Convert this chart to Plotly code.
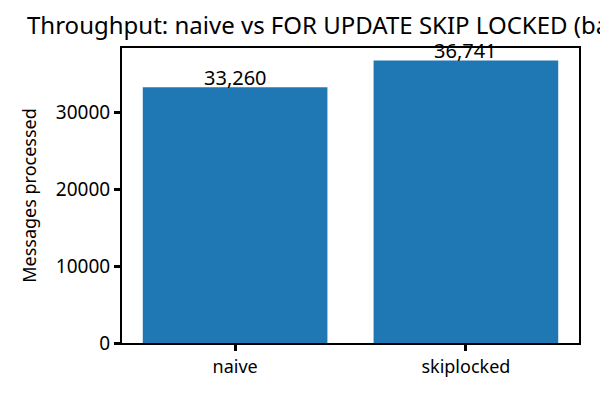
import plotly.graph_objects as go

categories = ["naive", "skiplocked"]
messages = [33260, 36741]
y_ticks = [0, 10000, 20000, 30000]
title_text = "Throughput: naive vs FOR UPDATE SKIP LOCKED (batch)"

FONT = "Comic Sans MS, Humor Sans, Noto Sans"

fig = go.Figure(
    go.Bar(
        x=categories,
        y=messages,
        width=0.8,
        marker=dict(color="#1f77b4", line=dict(width=0)),
        hoverinfo="skip",
    )
)

# value labels just above each bar
for cat, val in zip(categories, messages):
    fig.add_annotation(
        x=cat,
        y=val,
        xref="x",
        yref="y",
        text=f"{val:,}",
        showarrow=False,
        yanchor="middle",
        yshift=10,
        font=dict(family=FONT, size=20, color="black"),
    )

fig.update_layout(
    width=600,
    height=400,
    margin=dict(l=122, r=21, t=48, b=57, autoexpand=False),
    paper_bgcolor="white",
    plot_bgcolor="white",
    font=dict(family=FONT, size=18, color="black"),
    showlegend=False,
    title=dict(
        text=title_text,
        x=27 / 600,
        xref="container",
        xanchor="left",
        y=1 - 26 / 400,
        yref="container",
        yanchor="middle",
        font=dict(family=FONT, size=24, color="black"),
    ),
)

fig.update_xaxes(
    range=[-0.49, 1.49],
    automargin=False,
    showline=True,
    linecolor="black",
    linewidth=2,
    mirror=True,
    ticks="outside",
    ticklen=6,
    tickwidth=3,
    tickcolor="black",
    showgrid=False,
    tickfont=dict(family=FONT, size=18),
)

fig.update_yaxes(
    range=[0, 38350],
    automargin=False,
    tickvals=y_ticks,
    ticktext=[str(v) for v in y_ticks],
    showline=True,
    linecolor="black",
    linewidth=2,
    mirror=True,
    ticks="outside",
    ticklen=6,
    tickwidth=3,
    tickcolor="black",
    showgrid=False,
    zeroline=False,
    tickfont=dict(family=FONT, size=19),
    title=dict(text="Messages processed", font=dict(family=FONT, size=18)),
)

fig.write_html(
    "out.html",
    config={"displayModeBar": False},
    post_script="document.body.style.margin='0';document.body.style.overflow='hidden';",
)
